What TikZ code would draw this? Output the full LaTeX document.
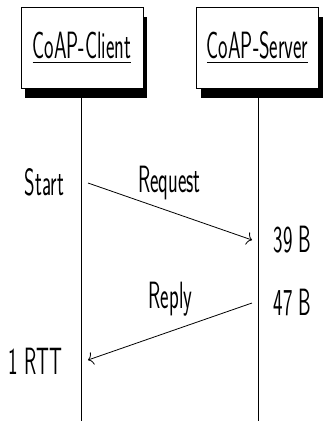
\documentclass[tikz,border=0pt]{standalone}
\usepackage{graphicx}
\usetikzlibrary{shadows,arrows.meta}
\newcommand{\nar}[1]{\scalebox{0.53}[1]{#1}}
\newcommand{\uline}[1]{\setbox0\hbox{#1}\rlap{\rule[-4.5pt]{\wd0}{1.2pt}}\box0}
\begin{document}
\begin{tikzpicture}[x=1pt,y=-1pt,
  every node/.style={inner sep=0pt, outer sep=0pt},
  lbl/.style={font=\fontsize{38}{44}\selectfont\sffamily, anchor=base},
  actor/.style={draw, line width=0.8pt, fill=white, minimum width=122pt, minimum height=81pt,
    font=\fontsize{38}{44}\selectfont\sffamily,
    drop shadow={shadow xshift=4pt, shadow yshift=-10pt, fill=black, opacity=1}},
  life/.style={line width=0.8pt},
  msg/.style={line width=0.8pt, -{To[length=5pt,width=13pt]}}]
\useasboundingbox (0,0) rectangle (322,421);
% lifelines
\coordinate (cend) at (81.7,421);
\coordinate (send) at (258,421);
\draw[life] (81.7,88) -- (cend);
\draw[life] (258,88) -- (send);
% actors
\node[actor] (client) at (82,47.5) {\uline{\nar{CoAP-Client}}};
\node[actor] (server) at (257.5,47.5) {\uline{\nar{CoAP-Server}}};
% message endpoints
\coordinate (req1) at (88,183);
\coordinate (req2) at (252,240);
\coordinate (rep1) at (252,303);
\coordinate (rep2) at (88,360);
\draw[msg] (req1) -- (req2);
\draw[msg] (rep1) -- (rep2);
% labels
\node[lbl] (start) at (44.5,195) {\nar{Start}};
\node[lbl] (request) at (169.5,192) {\nar{Request}};
\node[lbl] (b39) at (292.5,252) {\nar{39 B}};
\node[lbl] (reply) at (170.5,308) {\nar{Reply}};
\node[lbl] (b47) at (292.5,315) {\nar{47 B}};
\node[lbl] (rtt) at (35.5,374) {\nar{1 RTT}};
\end{tikzpicture}
\end{document}
